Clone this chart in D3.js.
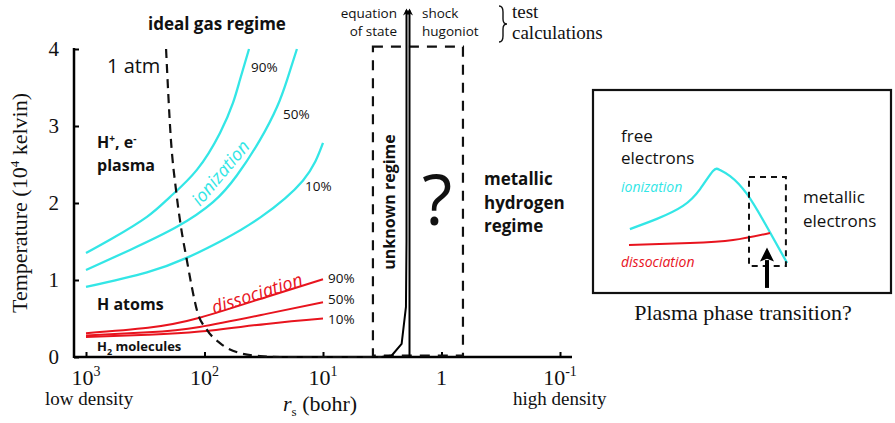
<!DOCTYPE html>
<html>
<head>
<meta charset="utf-8">
<script src="https://cdn.jsdelivr.net/npm/d3@7/dist/d3.min.js"></script>
<style>
  html, body { margin: 0; padding: 0; background: #fff; }
  svg { display: block; }
  .sans { font-family: "Open Sans", "Noto Sans", sans-serif; }
  .serif { font-family: "Liberation Serif", "DejaVu Serif", serif; }
</style>
</head>
<body>
<svg id="chart" width="895" height="423"></svg>
<script>
// ---------------- data ----------------
const xTickValues = [1000, 100, 10, 1, 0.1];
const xTickBases = ["10", "10", "10", "1", "10"];
const xTickExps = ["3", "2", "1", "", "-1"];
const yTickValues = [0, 1, 2, 3, 4];

// ionization curves (r in bohr, T in 10^4 K)
const ion90R = [1000, 592, 306, 195, 116, 74, 57.5, 50.2, 42.1];
const ion90T = [1.35, 1.545, 1.82, 2.08, 2.43, 2.91, 3.30, 3.60, 4.0];
const ion50R = [1000, 425, 171, 84.8, 53.2, 34.0, 24.4, 20.1, 16.6];
const ion50T = [1.13, 1.39, 1.69, 2.01, 2.36, 2.82, 3.25, 3.60, 4.0];
const ion10R = [1000, 306, 140, 69.8, 34.0, 14.8, 10];
const ion10T = [0.91, 1.10, 1.29, 1.52, 1.81, 2.29, 2.78];

// dissociation curves
const dis90R = [1000, 300, 110, 30, 10];
const dis90T = [0.31, 0.38, 0.51, 0.78, 1.01];
const dis50R = [1000, 300, 110, 30, 10];
const dis50T = [0.28, 0.32, 0.39, 0.56, 0.71];
const dis10R = [1000, 300, 110, 30, 10];
const dis10T = [0.26, 0.29, 0.33, 0.43, 0.50];

// 1 atm isobar
const atmR = [211, 192, 174, 158, 141, 123, 116, 95, 74, 50, 34, 23, 10, 3.2];
const atmT = [4.0, 2.82, 2.17, 1.69, 1.26, 0.78, 0.61, 0.35, 0.18, 0.05, 0.013, 0, 0, 0];

// test calculations
const hugoR = [3.2, 2.63, 2.17, 1.995, 1.974, 1.974];
const hugoT = [0, 0.02, 0.17, 0.65, 1.5, 4.5];
const eosR = [1.862, 1.862];
const eosT = [0, 4.5];

// unknown regime box
const boxR = [3.79, 0.659];
const boxT = [0, 4.03];

// inset schematic (arbitrary units 0-100)
const insetIonX = [12.3, 21.3, 30, 35.7, 40, 42.3, 45.7, 51.3, 58, 64.7];
const insetIonY = [31.5, 36.5, 42.9, 51.2, 60.1, 60.6, 57.6, 48.8, 32.5, 14.8];
const insetDisX = [12, 32.3, 46.7, 59];
const insetDisY = [23.6, 24.6, 26.1, 29.6];
const insetBoxX = [52, 64.3];
const insetBoxY = [13.3, 57.1];
const insetArrowX = [58, 58];
const insetArrowY = [2.5, 23.6];

// ---------------- styles ----------------
const CYAN = "#33e6e6";
const RED = "#e8141e";

const svg = d3.select("#chart");

const x = d3.scaleLog().domain([1000, 0.1]).range([86, 560]);
const y = d3.scaleLinear().domain([0, 4]).range([357, 49]);
const axisLeftX = 74, axisRightX = 572;

// defs: arrowheads (pointing along +x in marker space)
const defs = svg.append("defs");
defs.append("marker").attr("id", "arr").attr("viewBox", "0 0 10 10")
  .attr("refX", 7).attr("refY", 5).attr("markerWidth", 9).attr("markerHeight", 7)
  .attr("markerUnits", "userSpaceOnUse").attr("orient", "auto")
  .append("path").attr("d", "M0,0 L10,5 L0,10 L3,5 Z").attr("fill", "#000");
defs.append("marker").attr("id", "arrBig").attr("viewBox", "0 0 10 10")
  .attr("refX", 1).attr("refY", 5).attr("markerWidth", 16).attr("markerHeight", 14)
  .attr("markerUnits", "userSpaceOnUse").attr("orient", "auto")
  .append("path").attr("d", "M0,0 L10,5 L0,10 L2,5 Z").attr("fill", "#000");

const zip = (xs, ys) => xs.map((v, i) => [v, ys[i]]);
const line = d3.line().x(d => x(d[0])).y(d => y(d[1])).curve(d3.curveMonotoneX);
const smooth = d3.line().x(d => x(d[0])).y(d => y(d[1])).curve(d3.curveNatural);
const lineLin = d3.line().x(d => x(d[0])).y(d => y(d[1]));

// ---------------- axes ----------------
const gx = svg.append("g").attr("transform", `translate(0,${y(0)})`)
  .call(d3.axisBottom(x).tickValues(xTickValues).tickSize(-5).tickFormat(""));
gx.select(".domain").remove();
gx.selectAll(".tick line").attr("stroke", "#000").attr("stroke-width", 2);
svg.append("line").attr("x1", axisLeftX).attr("x2", axisRightX)
  .attr("y1", y(0)).attr("y2", y(0)).attr("stroke", "#000").attr("stroke-width", 2.5);

const gy = svg.append("g").attr("transform", `translate(${axisLeftX},0)`)
  .call(d3.axisLeft(y).tickValues(yTickValues).tickSize(-5).tickFormat(""));
gy.select(".domain").remove();
gy.selectAll(".tick line").attr("stroke", "#000").attr("stroke-width", 2);
svg.append("line").attr("x1", axisLeftX).attr("x2", axisLeftX)
  .attr("y1", y(4) - 1).attr("y2", y(0) + 1).attr("stroke", "#000").attr("stroke-width", 2.5);

// tick labels
xTickValues.forEach((v, i) => {
  const t = svg.append("text").attr("class", "serif").attr("x", x(v)).attr("y", 385)
    .attr("text-anchor", "middle").attr("font-size", 22).attr("fill", "#111");
  t.append("tspan").text(xTickBases[i]);
  if (xTickExps[i]) t.append("tspan").attr("dy", -9).attr("font-size", 14).text(xTickExps[i]);
});
yTickValues.forEach(v => {
  svg.append("text").attr("class", "serif").attr("x", 59).attr("y", y(v) + 7)
    .attr("text-anchor", "end").attr("font-size", 21).attr("fill", "#111").text(v);
});

// axis titles
const yl = svg.append("text").attr("class", "serif").attr("font-size", 22).attr("fill", "#111")
  .attr("text-anchor", "middle").attr("transform", "translate(27,203) rotate(-90)");
yl.append("tspan").text("Temperature (10");
yl.append("tspan").attr("dy", -8).attr("font-size", 13).text("4");
yl.append("tspan").attr("dy", 8).text(" kelvin)");

const xl = svg.append("text").attr("class", "serif").attr("font-size", 22).attr("fill", "#111")
  .attr("x", 283).attr("y", 411);
xl.append("tspan").attr("font-style", "italic").text("r");
xl.append("tspan").attr("dy", 5).attr("font-size", 13).text("s");
xl.append("tspan").attr("dy", -5).text(" (bohr)");

svg.append("text").attr("class", "serif").attr("x", 45).attr("y", 405)
  .attr("font-size", 19).attr("fill", "#111").text("low density");
svg.append("text").attr("class", "serif").attr("x", 513).attr("y", 405)
  .attr("font-size", 19).attr("fill", "#111").text("high density");

// ---------------- curves ----------------
[[ion90R, ion90T], [ion50R, ion50T], [ion10R, ion10T]].forEach(([r, t]) => {
  svg.append("path").attr("d", smooth(zip(r, t))).attr("fill", "none")
    .attr("stroke", CYAN).attr("stroke-width", 2.3);
});
[[dis90R, dis90T], [dis50R, dis50T], [dis10R, dis10T]].forEach(([r, t]) => {
  svg.append("path").attr("d", smooth(zip(r, t))).attr("fill", "none")
    .attr("stroke", RED).attr("stroke-width", 2);
});

// 1 atm
svg.append("path").attr("d", line(zip(atmR, atmT))).attr("fill", "none")
  .attr("stroke", "#111").attr("stroke-width", 2.2).attr("stroke-dasharray", "9,6");

// unknown regime box
svg.append("rect").attr("x", x(boxR[0])).attr("y", y(boxT[1]))
  .attr("width", x(boxR[1]) - x(boxR[0])).attr("height", y(boxT[0]) - y(boxT[1]) - 1.5)
  .attr("fill", "none").attr("stroke", "#111").attr("stroke-width", 2.2)
  .attr("stroke-dasharray", "10,8");

// hugoniot + EOS
svg.append("path").attr("d", lineLin(zip(hugoR, hugoT))).attr("fill", "none")
  .attr("stroke", "#000").attr("stroke-width", 2).attr("marker-end", "url(#arr)");
svg.append("path").attr("d", lineLin(zip(eosR, eosT))).attr("fill", "none")
  .attr("stroke", "#000").attr("stroke-width", 2).attr("marker-end", "url(#arr)");

// ---------------- annotations ----------------
function txt(xp, yp, s, size, opts = {}) {
  const t = svg.append("text").attr("class", opts.serif ? "serif" : "sans")
    .attr("x", xp).attr("y", yp).attr("font-size", size)
    .attr("fill", opts.fill || "#111")
    .attr("font-weight", opts.bold ? 700 : 400)
    .attr("font-style", opts.italic ? "italic" : "normal")
    .attr("text-anchor", opts.anchor || "start");
  if (opts.transform) t.attr("transform", opts.transform);
  if (s !== null) t.text(s);
  return t;
}

txt(148, 30, "ideal gas regime", 17, { bold: true });
txt(107, 73, "1 atm", 20);
txt(251, 72, "90%", 13.5);
txt(283, 119, "50%", 13.5);
txt(305, 191, "10%", 13.5);

const hp = txt(97, 148, null, 16, { bold: true });
hp.append("tspan").text("H");
hp.append("tspan").attr("dy", -6).attr("font-size", 10).text("+");
hp.append("tspan").attr("dy", 6).text(", e");
hp.append("tspan").attr("dy", -6).attr("font-size", 10).text("-");
txt(97, 171, "plasma", 16, { bold: true });

txt(97, 310, "H atoms", 16, { bold: true });
const h2 = txt(97, 351, null, 13, { bold: true });
h2.append("tspan").text("H");
h2.append("tspan").attr("dy", 4).attr("font-size", 9).text("2");
h2.append("tspan").attr("dy", -4).text(" molecules");

txt(0, 0, "ionization", 18, { italic: true, fill: CYAN, transform: "translate(200,207) rotate(-50)" });
txt(0, 0, "dissociation", 18, { italic: true, fill: RED, transform: "translate(214,314) rotate(-18)" });

txt(328, 283, "90%", 13.5);
txt(328, 304, "50%", 13.5);
txt(328, 324, "10%", 13.5);

txt(0, 0, "unknown regime", 16, { bold: true, anchor: "middle", transform: "translate(395,202) rotate(-90)" });
txt(437, 225, "?", 70, { anchor: "middle" });

txt(484, 185, "metallic", 17, { bold: true });
txt(484, 209, "hydrogen", 17, { bold: true });
txt(484, 232, "regime", 17, { bold: true });

txt(397, 18, "equation", 13.5, { anchor: "end" });
txt(397, 36, "of state", 13.5, { anchor: "end" });
txt(422, 18, "shock", 13.5);
txt(422, 36, "hugoniot", 13.5);

// curly brace grouping the two test calculations
const bp = d3.path();
bp.moveTo(499, 6);
bp.quadraticCurveTo(503, 6, 503, 12);
bp.lineTo(503, 19);
bp.quadraticCurveTo(503, 24, 507, 24);
bp.quadraticCurveTo(503, 24, 503, 29);
bp.lineTo(503, 36);
bp.quadraticCurveTo(503, 42, 499, 42);
svg.append("path").attr("d", bp.toString()).attr("fill", "none")
  .attr("stroke", "#111").attr("stroke-width", 1.4);

txt(512, 18, "test", 19, { serif: true });
txt(512, 39, "calculations", 19, { serif: true });

// ---------------- inset ----------------
const ix = d3.scaleLinear().domain([0, 100]).range([593, 893]);
const iy = d3.scaleLinear().domain([0, 100]).range([293, 90]);
const iline = d3.line().x(d => ix(d[0])).y(d => iy(d[1])).curve(d3.curveNatural);

svg.append("rect").attr("x", ix(0)).attr("y", iy(100))
  .attr("width", ix(100) - ix(0) - 2).attr("height", iy(0) - iy(100))
  .attr("fill", "none").attr("stroke", "#111").attr("stroke-width", 2.2);

svg.append("path").attr("d", iline(zip(insetIonX, insetIonY))).attr("fill", "none")
  .attr("stroke", CYAN).attr("stroke-width", 2.3);
svg.append("path").attr("d", iline(zip(insetDisX, insetDisY))).attr("fill", "none")
  .attr("stroke", RED).attr("stroke-width", 2);
svg.append("rect").attr("x", ix(insetBoxX[0])).attr("y", iy(insetBoxY[1]))
  .attr("width", ix(insetBoxX[1]) - ix(insetBoxX[0])).attr("height", iy(insetBoxY[0]) - iy(insetBoxY[1]))
  .attr("fill", "none").attr("stroke", "#111").attr("stroke-width", 2).attr("stroke-dasharray", "6,5");
svg.append("line").attr("x1", ix(insetArrowX[0])).attr("x2", ix(insetArrowX[1]))
  .attr("y1", iy(insetArrowY[0])).attr("y2", iy(insetArrowY[1]) + 15)
  .attr("stroke", "#000").attr("stroke-width", 4).attr("marker-end", "url(#arrBig)");

txt(621, 142, "free", 17);
txt(621, 164, "electrons", 17);
txt(621, 192, "ionization", 14, { italic: true, fill: CYAN });
txt(621, 267, "dissociation", 14, { italic: true, fill: RED });
txt(803, 203, "metallic", 17);
txt(803, 227, "electrons", 17);
txt(743, 320, "Plasma phase transition?", 22, { serif: true, anchor: "middle" });
</script>
</body>
</html>
